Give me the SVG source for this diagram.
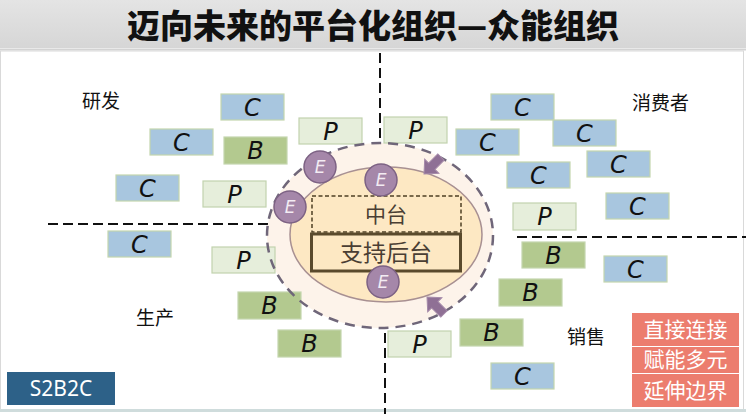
<svg xmlns="http://www.w3.org/2000/svg" width="746" height="414" viewBox="0 0 746 414">
<defs>
<linearGradient id="tg" x1="0" y1="0" x2="0" y2="1"><stop offset="0" stop-color="#e4e4e4"/><stop offset="1" stop-color="#d6d6d6"/></linearGradient>
<style>
.cjk{font-family:"Noto Sans CJK SC","Noto Sans",sans-serif}
.lbl{font-size:19px;fill:#111}
.bx{stroke-width:1.2}
.c{fill:#a8c6df;stroke:#c4d6ae}
.b{fill:#b3c98f;stroke:#c4d6ae}
.p{fill:#e6eedb;stroke:#c2d2ae}
.lt{font-family:"DejaVu Sans","Liberation Sans",sans-serif;font-style:italic;font-size:24px;fill:#111;text-anchor:middle}
.dash{stroke:#111;stroke-width:2;stroke-dasharray:10 5;fill:none}
.e circle{fill:#a587a9;stroke:#7d6284;stroke-width:1.5}
.e text{font-family:"DejaVu Sans","Liberation Sans",sans-serif;font-style:italic;font-size:17px;fill:#f3ecf3;text-anchor:middle}
.arr{fill:#8f7095;stroke:#a58aa9;stroke-width:1}
.side{fill:#ec7d6e}
.st{font-size:21px;fill:#fff;text-anchor:middle}
</style>
</defs>
<rect x="0" y="0" width="746" height="414" fill="#fff"/>
<rect x="0" y="0" width="746" height="48" fill="url(#tg)"/>
<line x1="0" y1="49.5" x2="746" y2="49.5" stroke="#d3d3d3" stroke-width="2"/>
<text x="373" y="38" class="cjk" font-size="33" font-weight="900" text-anchor="middle" fill="#111">迈向未来的平台化组织—众能组织</text>
<rect x="0.5" y="51" width="743" height="359" fill="none" stroke="#d9d9d9" stroke-width="1"/>
<line x1="0" y1="410.5" x2="746" y2="410.5" stroke="#cfdcdc" stroke-width="3"/>

<g id="axes">
<line class="dash" x1="380" y1="53" x2="380" y2="143"/>
<line class="dash" x1="385" y1="333" x2="385" y2="414"/>
<line class="dash" x1="48" y1="224" x2="268" y2="224"/>
<line class="dash" x1="517" y1="237" x2="746" y2="237"/>
</g>

<ellipse cx="380" cy="235.5" rx="113" ry="92.5" fill="#fdf3ea"/>

<g id="labels" class="cjk lbl">
<text x="82" y="108">研发</text>
<text x="632" y="110">消费者</text>
<text x="136" y="325">生产</text>
<text x="567" y="344">销售</text>
</g>

<g id="nodes">
<g id="c1"><rect class="bx c" x="221" y="94" width="63" height="26"/><text class="lt" x="252.5" y="116">C</text></g>
<g id="c2"><rect class="bx c" x="150" y="129" width="63" height="26"/><text class="lt" x="181.5" y="151">C</text></g>
<g id="c3"><rect class="bx c" x="116" y="175" width="63" height="26"/><text class="lt" x="147.5" y="197">C</text></g>
<g id="c4"><rect class="bx c" x="108" y="231" width="63" height="26"/><text class="lt" x="139.5" y="253">C</text></g>
<g id="c5"><rect class="bx c" x="491" y="94" width="63" height="26"/><text class="lt" x="522.5" y="116">C</text></g>
<g id="c6"><rect class="bx c" x="456" y="129" width="63" height="26"/><text class="lt" x="487.5" y="151">C</text></g>
<g id="c7"><rect class="bx c" x="553" y="120" width="63" height="26"/><text class="lt" x="584.5" y="142">C</text></g>
<g id="c8"><rect class="bx c" x="507" y="162" width="63" height="26"/><text class="lt" x="538.5" y="184">C</text></g>
<g id="c9"><rect class="bx c" x="587" y="151" width="63" height="26"/><text class="lt" x="618.5" y="173">C</text></g>
<g id="c10"><rect class="bx c" x="606" y="193" width="63" height="26"/><text class="lt" x="637.5" y="215">C</text></g>
<g id="c11"><rect class="bx c" x="604" y="256" width="63" height="26"/><text class="lt" x="635.5" y="278">C</text></g>
<g id="c12"><rect class="bx c" x="491" y="363" width="63" height="26"/><text class="lt" x="522.5" y="385">C</text></g>
<g id="b1"><rect class="bx b" x="224" y="137" width="63" height="27"/><text class="lt" x="255.5" y="159">B</text></g>
<g id="b2"><rect class="bx b" x="238" y="292" width="63" height="27"/><text class="lt" x="269.5" y="314">B</text></g>
<g id="b3"><rect class="bx b" x="278" y="330" width="63" height="27"/><text class="lt" x="309.5" y="352">B</text></g>
<g id="b4"><rect class="bx b" x="522" y="242" width="63" height="26"/><text class="lt" x="553.5" y="264">B</text></g>
<g id="b5"><rect class="bx b" x="499" y="279" width="63" height="27"/><text class="lt" x="530.5" y="301">B</text></g>
<g id="b6"><rect class="bx b" x="460" y="319" width="63" height="27"/><text class="lt" x="491.5" y="341">B</text></g>
<g id="p1"><rect class="bx p" x="203" y="181" width="63" height="26"/><text class="lt" x="234.5" y="203">P</text></g>
<g id="p2"><rect class="bx p" x="299" y="118" width="63" height="26"/><text class="lt" x="330.5" y="140">P</text></g>
<g id="p3"><rect class="bx p" x="384" y="117" width="63" height="26"/><text class="lt" x="415.5" y="139">P</text></g>
<g id="p4"><rect class="bx p" x="513" y="203" width="63" height="27"/><text class="lt" x="544.5" y="225">P</text></g>
<g id="p5"><rect class="bx p" x="212" y="247" width="63" height="26"/><text class="lt" x="243.5" y="269">P</text></g>
<g id="p6"><rect class="bx p" x="388" y="331" width="63" height="26"/><text class="lt" x="419.5" y="353">P</text></g>
</g>

<ellipse cx="380" cy="235.5" rx="113" ry="92.5" fill="none" stroke="#6f6679" stroke-width="2.5" stroke-dasharray="10 7"/>

<g id="platform">
<ellipse cx="386" cy="234.5" rx="96" ry="67.5" fill="#fde8c3" stroke="#a89092" stroke-width="1.5"/>
<g id="zhongtai"><rect x="312" y="196" width="149" height="36" fill="none" stroke="#4e3f24" stroke-width="1.5" stroke-dasharray="4 2.5"/>
<text class="cjk" x="386" y="222" font-size="21" text-anchor="middle" fill="#4a3e33">中台</text></g>
<g id="houtai"><rect x="311.5" y="234" width="149" height="37" fill="none" stroke="#5a4a2c" stroke-width="3"/>
<text class="cjk" x="386" y="261" font-size="23" text-anchor="middle" fill="#4a3e33">支持后台</text></g>
</g>

<g id="e1" class="e"><circle cx="320" cy="167" r="16"/><text x="320" y="173">E</text></g>
<g id="e2" class="e"><circle cx="381" cy="180" r="16"/><text x="381" y="186">E</text></g>
<g id="e3" class="e"><circle cx="290" cy="207" r="16"/><text x="290" y="213">E</text></g>
<g id="e4" class="e"><circle cx="383" cy="282" r="16"/><text x="383" y="288">E</text></g>

<g id="connectors">
<polygon class="arr" points="0,0 -11,-10 -11,-4.5 -24,-4.5 -24,4.5 -11,4.5 -11,10" transform="translate(424,174) rotate(135)"/>
<polygon class="arr" points="0,0 -11,-10 -11,-4.5 -24,-4.5 -24,4.5 -11,4.5 -11,10" transform="translate(427,297) rotate(225)"/>
</g>

<g id="s2b2c"><rect x="7" y="372" width="108" height="33" fill="#2d6188"/>
<text x="61" y="396" font-family="Noto Sans, sans-serif" font-size="21" text-anchor="middle" fill="#fff">S2B2C</text></g>

<g id="features" class="cjk">
<rect class="side" x="632" y="313" width="107" height="33"/>
<rect class="side" x="632" y="347" width="107" height="26"/>
<rect class="side" x="632" y="374" width="107" height="33"/>
<text class="st" x="685.5" y="337">直接连接</text>
<text class="st" x="685.5" y="367">赋能多元</text>
<text class="st" x="685.5" y="398">延伸边界</text>
</g>
</svg>
